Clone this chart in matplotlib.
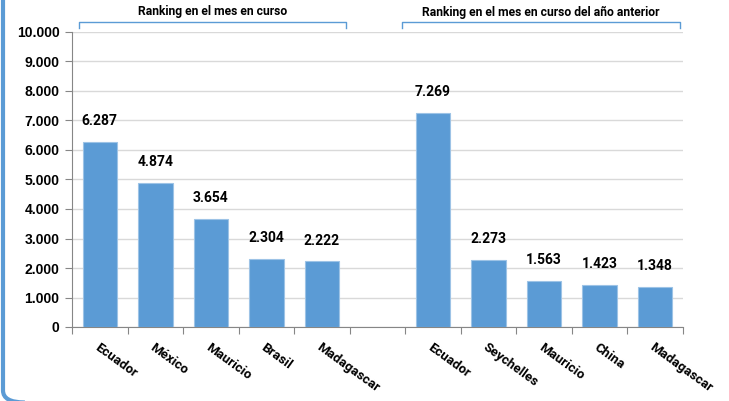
import matplotlib
matplotlib.use("Agg")
import matplotlib.pyplot as plt
from matplotlib.patches import FancyBboxPatch

# data
paises_actual = ["Ecuador", "México", "Mauricio", "Brasil", "Madagascar"]
valores_actual = [6287, 4874, 3654, 2304, 2222]
paises_anterior = ["Ecuador", "Seychelles", "Mauricio", "China", "Madagascar"]
valores_anterior = [7269, 2273, 1563, 1423, 1348]
titulo_actual = "Ranking en el mes en curso"
titulo_anterior = "Ranking en el mes en curso del año anterior"
yticks = list(range(0, 10001, 1000))

azul = "#5B9BD5"
gris = "#868686"
fuente = "Roboto"

def fmt(v):
    return f"{v:,}".replace(",", ".")

fig = plt.figure(figsize=(7.29, 4.01), dpi=100)
ax = fig.add_axes([72 / 729, 74 / 401, 611 / 729, 295 / 401])

# positions: 5 bars, empty slot, 5 bars
pos_a = list(range(5))
pos_b = [p + 6 for p in range(5)]
ax.bar(pos_a, valores_actual, width=0.62, color=azul, edgecolor="#9DC3E6", linewidth=0.8, zorder=3)
ax.bar(pos_b, valores_anterior, width=0.62, color=azul, edgecolor="#9DC3E6", linewidth=0.8, zorder=3)

for p, v in zip(pos_a + pos_b, valores_actual + valores_anterior):
    ax.annotate(fmt(v), (p, v), xytext=(0, 10), textcoords="offset points",
                ha="center", va="bottom", fontsize=10, fontweight="bold",
                family=fuente, color="black")

ax.set_xlim(-0.5, 10.5)
ax.set_ylim(0, 10000)
ax.set_yticks(yticks)
ax.set_yticklabels([fmt(t) for t in yticks], fontsize=10, fontweight="bold",
                   family="Liberation Sans")
ax.tick_params(axis="y", length=5, color=gris, pad=4)
ax.set_xticks([x - 0.5 for x in range(12)])
ax.set_xticklabels([])
ax.tick_params(axis="x", length=5, color=gris)
ax.grid(axis="y", color="#D9D9D9", linewidth=1, zorder=0)
ax.set_axisbelow(True)
for s in ["top", "right"]:
    ax.spines[s].set_visible(False)
ax.spines["left"].set_color(gris)
ax.spines["bottom"].set_color(gris)

# category labels
for p, nombre in zip(pos_a + pos_b, paises_actual + paises_anterior):
    ax.annotate(nombre, (p, 0), xytext=(0, -10), textcoords="offset points",
                ha="left", va="top", rotation=-36, rotation_mode="anchor",
                fontsize=9.5, fontweight="bold", family=fuente)

# brackets above groups
def corchete(x0, x1, titulo):
    y0, y1 = 28 / 401, 22 / 401
    fig.lines.append(plt.Line2D([x0 / 729, x0 / 729, x1 / 729, x1 / 729],
                                [1 - y0, 1 - y1, 1 - y1, 1 - y0],
                                transform=fig.transFigure, color=azul, linewidth=1))
    fig.text((x0 + x1) / 2 / 729, 1 - 12 / 401, titulo, ha="center", va="center",
             fontsize=8.7, fontweight="bold", family=fuente)

corchete(79, 346, titulo_actual)
corchete(402, 680, titulo_anterior)

# rounded frame (only left edge and bottom-left corner visible)
marco = FancyBboxPatch((3 / 729, -1.5 / 401), 1.2, 1.2,
                       boxstyle="round,pad=0,rounding_size=0.03",
                       transform=fig.transFigure, fill=False,
                       edgecolor=azul, linewidth=3, clip_on=False)
fig.patches.append(marco)

fig.savefig("out.png", dpi=100)
